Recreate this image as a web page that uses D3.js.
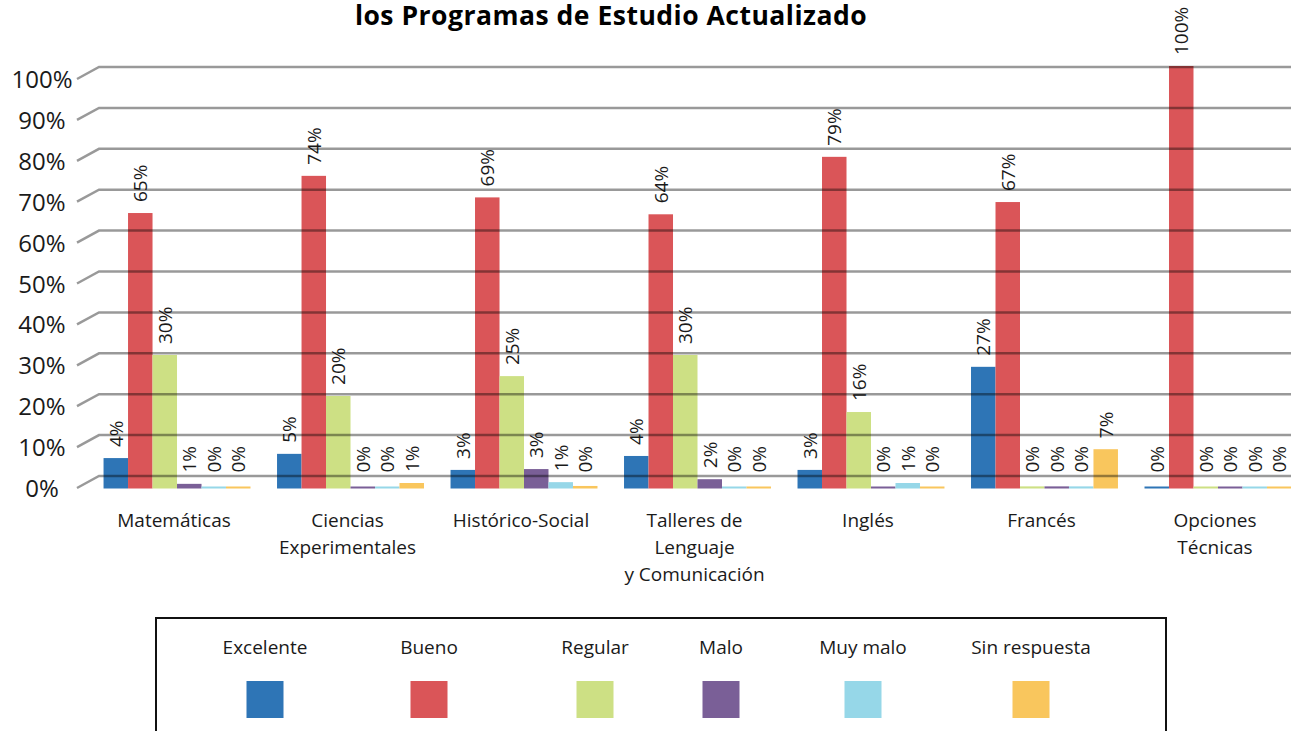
<!DOCTYPE html>
<html>
<head>
<meta charset="utf-8">
<script src="https://cdn.jsdelivr.net/npm/d3@7"></script>
<style>
  body { margin: 0; background: #fff; }
  svg { display: block; font-family: "Open Sans", sans-serif; }
</style>
</head>
<body>
<div id="app"></div>
<script>
const W = 1291, H = 731

const categories = ['Matemáticas', 'Ciencias\nExperimentales', 'Histórico-Social',
  'Talleres de\nLenguaje\ny Comunicación', 'Inglés', 'Francés', 'Opciones\nTécnicas']
const series = ['Excelente', 'Bueno', 'Regular', 'Malo', 'Muy malo', 'Sin respuesta']
const colors = ['#2e75b6', '#da5558', '#cde084', '#7a5f97', '#96d7e8', '#f9c65d']

// bar heights (%)
const excelente = [7.2, 8.2, 4.4, 7.7, 4.4, 28.8, 0]
const bueno = [65.2, 74.0, 68.9, 64.9, 78.5, 67.8, 100]
const regular = [31.6, 21.9, 26.6, 31.6, 18.1, 0.5, 0]
const malo = [1.1, 0.4, 4.6, 2.2, 0.4, 0.5, 0]
const muyMalo = [0.3, 0.4, 1.5, 0.4, 1.3, 0.5, 0]
const sinRespuesta = [0.3, 1.3, 0.6, 0.4, 0.4, 9.3, 0]

// printed data labels
const lblExcelente = ['4%', '5%', '3%', '4%', '3%', '27%', '0%']
const lblBueno = ['65%', '74%', '69%', '64%', '79%', '67%', '100%']
const lblRegular = ['30%', '20%', '25%', '30%', '16%', '0%', '0%']
const lblMalo = ['1%', '0%', '3%', '2%', '0%', '0%', '0%']
const lblMuyMalo = ['0%', '0%', '1%', '0%', '1%', '0%', '0%']
const lblSinRespuesta = ['0%', '1%', '0%', '0%', '0%', '7%', '0%']

const yTicks = [0, 10, 20, 30, 40, 50, 60, 70, 80, 90, 100]
const title = 'los Programas de Estudio Actualizado'

const values = [excelente, bueno, regular, malo, muyMalo, sinRespuesta]
const labels = [lblExcelente, lblBueno, lblRegular, lblMalo, lblMuyMalo, lblSinRespuesta]

const LEGEND_X = [265, 429, 595, 721, 863, 1031]

const svg = d3.select('#app').append('svg')
  .attr('width', W)
  .attr('height', H)

const x0 = d3.scaleBand()
  .domain(categories)
  .range([77, 1318])
  .padding(0.153)

const x1 = d3.scaleBand()
  .domain(series)
  .range([0, x0.bandwidth()])

// bars sit on the front plane, gridlines on the back wall
const yBar = d3.scaleLinear().domain([0, 100]).range([488.5, 66])
const yGrid = d3.scaleLinear().domain([0, 100]).range([476, 67])

svg.append('text')
  .attr('x', 611)
  .attr('y', 25)
  .attr('text-anchor', 'middle')
  .style('font-weight', 700)
  .style('font-size', '26.5px')
  .style('letter-spacing', '0.5px')
  .text(title)

// y labels
svg.append('g').selectAll('text')
  .data(yTicks)
  .enter().append('text')
  .attr('x', 42)
  .attr('y', d => yGrid(d) + 21)
  .attr('text-anchor', 'middle')
  .style('font-size', '24px')
  .style('fill', '#1a1a1a')
  .text(d => d + '%')

const groups = svg.append('g').selectAll('g')
  .data(categories)
  .enter().append('g')
  .attr('transform', d => 'translate(' + x0(d) + ',0)')

groups.each(function(c, ci) {
  const g = d3.select(this)
  series.forEach((s, si) => {
    const v = values[si][ci]
    const top = Math.min(yBar(v), yBar(0) - 2)
    g.append('rect')
      .attr('x', x1(s))
      .attr('y', top)
      .attr('width', x1.bandwidth())
      .attr('height', yBar(0) - top)
      .style('fill', colors[si])
    const lx = x1(s) + x1.bandwidth() / 2
    const ly = Math.min(top, yBar(0) - 5) - 11
    g.append('text')
      .attr('transform', 'translate(' + lx + ',' + ly + ') rotate(-90)')
      .attr('dy', '0.36em')
      .style('font-size', '19px')
      .style('fill', '#1a1a1a')
      .text(labels[si][ci])
  })
})

// gridlines over the bars
const grid = svg.append('g')
grid.selectAll('path')
  .data(yTicks)
  .enter().append('path')
  .attr('d', d => 'M77,' + (yGrid(d) + 12) + 'L99,' + yGrid(d) + 'H' + W)
  .style('fill', 'none')
  .style('stroke', '#000')
  .style('stroke-opacity', 0.4)
  .style('stroke-width', 2.5)

// category labels
const catLabels = svg.append('g').selectAll('text')
  .data(categories)
  .enter().append('text')
  .attr('x', d => x0(d) + x0.bandwidth() / 2 - 3)
  .attr('y', 527)
  .attr('text-anchor', 'middle')
  .style('font-size', '19px')
  .style('fill', '#1a1a1a')

catLabels.selectAll('tspan')
  .data(d => d.split('\n'))
  .enter().append('tspan')
  .attr('x', function() { return d3.select(this.parentNode).attr('x') })
  .attr('dy', (d, i) => i ? 27 : 0)
  .text(d => d)

// legend
svg.append('rect')
  .attr('x', 156)
  .attr('y', 618)
  .attr('width', 1010)
  .attr('height', 140)
  .style('fill', 'none')
  .style('stroke', '#111')
  .style('stroke-width', 2)

const leg = svg.append('g').selectAll('g')
  .data(series)
  .enter().append('g')
  .attr('transform', (d, i) => 'translate(' + LEGEND_X[i] + ',0)')

leg.append('text')
  .attr('y', 654)
  .attr('text-anchor', 'middle')
  .style('font-size', '19px')
  .style('fill', '#1a1a1a')
  .text(d => d)

leg.append('rect')
  .attr('x', -18.5)
  .attr('y', 681)
  .attr('width', 37)
  .attr('height', 37)
  .style('fill', (d, i) => colors[i])
</script>
</body>
</html>
